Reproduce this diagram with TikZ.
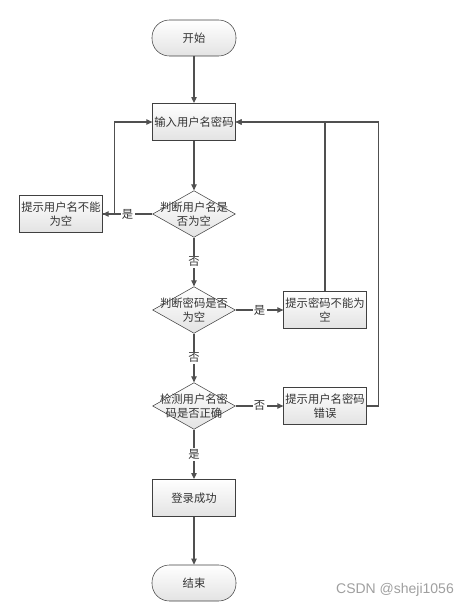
\documentclass[tikz,border=0pt]{standalone}
\usepackage{fontspec}
\setmainfont{Noto Sans CJK SC}
\newfontfamily\wmfont{Liberation Sans}
\usetikzlibrary{arrows.meta,shapes.geometric}
\definecolor{edgegray}{HTML}{505050}
\definecolor{boxline}{HTML}{404040}

\begin{document}
\begin{tikzpicture}[
  x=0.75pt, y=-0.75pt,
  every node/.style={font=\fontsize{8.5}{11}\selectfont, text=black!80},
  proc/.style={rectangle, draw=boxline, top color=white, bottom color=gray!22, align=center, minimum width=62pt, minimum height=28pt, inner sep=1pt},
  terminal/.style={rectangle, draw=boxline, top color=white, bottom color=gray!22, rounded corners=13pt, minimum width=63pt, minimum height=27pt},
  decision/.style={diamond, draw=boxline, top color=white, bottom color=gray!22, minimum width=62pt, minimum height=35pt, inner sep=0pt},
  line/.style={draw=edgegray, thick, -{Triangle[length=4.5pt,width=4pt]}},
  yn/.style={fill=white, inner sep=1pt}
]
  \useasboundingbox (0,0) rectangle (472,608);

  % ==================== MAIN FLOW ====================
  \node[terminal] (start) at (194,38) {开始};
  \node[proc] (input) at (194,122) {输入用户名密码};
  \node[decision, label={[align=center]center:判断用户名是\\否为空}] (d1) at (194,214) {};
  \node[decision, label={[align=center]center:判断密码是否\\为空}] (d2) at (194,310) {};
  \node[decision, label={[align=center]center:检测用户名密\\码是否正确}] (d3) at (194,406) {};
  \node[proc] (login) at (194,498) {登录成功};
  \node[terminal] (end) at (194,583) {结束};

  % ==================== MESSAGES ====================
  \node[proc] (msg1) at (61,214) {提示用户名不能\\为空};
  \node[proc] (msg2) at (325,310) {提示密码不能为\\空};
  \node[proc] (msg3) at (325,406) {提示用户名密码\\错误};

  % connectors down the middle
  \draw[line] (start) -- (input);
  \draw[line] (input) -- (d1);
  \draw[line] (d1) -- (d2) node[midway, yn] {否};
  \draw[line] (d2) -- (d3) node[midway, yn] {否};
  \draw[line] (d3) -- (login) node[midway, yn] {是};
  \draw[line] (login) -- (end);

  % branches to the messages
  \draw[line] (d1.west) -- (msg1.east) node[midway, yn] {是};
  \draw[line] (d2.east) -- (msg2.west) node[midway, yn] {是};
  \draw[line] (d3.east) -- (msg3.west) node[midway, yn] {否};

  % back to input
  \draw[line] (msg1.east) -- ++(12,0) |- (input.west);
  \draw[line] (msg2.north) |- (input.east);
  \draw[line] (msg3.east) -- ++(12,0) |- (input.east);

  % watermark
  \node[font=\wmfont\fontsize{10.5}{12}\selectfont, text=gray!75] (mark) at (395,590) {CSDN @sheji1056};

\end{tikzpicture}
\end{document}
